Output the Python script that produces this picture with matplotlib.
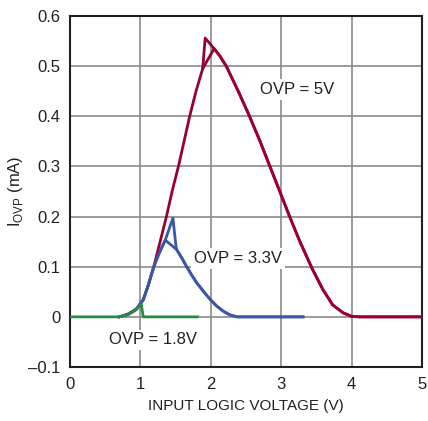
import numpy as np
import matplotlib
matplotlib.use("Agg")
import matplotlib.pyplot as plt

plt.rcParams['font.family'] = ['Liberation Sans Narrow', 'Liberation Sans', 'DejaVu Sans']
plt.rcParams['mathtext.fontset'] = 'custom'
plt.rcParams['mathtext.rm'] = 'Liberation Sans'

# OVP = 5V (two sweeps sharing the falling side)
red_rise_x = [0.70, 0.82, 0.94, 1.04, 1.107, 1.19, 1.28, 1.37, 1.45, 1.54, 1.62, 1.70, 1.79, 1.885]
red_rise_y = [0, 0.005, 0.015, 0.034, 0.061, 0.1, 0.15, 0.2, 0.25, 0.3, 0.35, 0.4, 0.45, 0.495]
red_spike_x = [1.92, 2.047]
red_spike_y = [0.556, 0.535]
red_fall_x = [2.047, 2.13, 2.22, 2.39, 2.55, 2.70, 2.84, 2.98, 3.12, 3.26, 3.44, 3.59, 3.73, 3.88, 4.0, 4.11, 5.0]
red_fall_y = [0.535, 0.52, 0.5, 0.45, 0.4, 0.35, 0.3, 0.25, 0.2, 0.152, 0.096, 0.055, 0.024, 0.008, 0.001, 0, 0]

# OVP = 3.3V
blue_rise_x = [0.70, 0.82, 0.94, 1.04, 1.107, 1.19, 1.27, 1.353]
blue_rise_y = [0, 0.005, 0.015, 0.034, 0.061, 0.1, 0.128, 0.153]
blue_spike_x = [1.462, 1.506]
blue_spike_y = [0.197, 0.14]
blue_fall_x = [1.353, 1.44, 1.516, 1.59, 1.657, 1.73, 1.80, 1.90, 1.99, 2.08, 2.18, 2.27, 2.37, 3.31]
blue_fall_y = [0.153, 0.143, 0.134, 0.117, 0.1, 0.083, 0.068, 0.05, 0.035, 0.022, 0.011, 0.004, 0, 0]

# OVP = 1.8V
green_x = [0, 0.70, 0.82, 0.92, 1.013, 1.04, 1.81]
green_y = [0, 0, 0.004, 0.012, 0.025, 0, 0]

red = '#990030'
blue = '#3a56a8'
green = '#2a8a45'

fig = plt.figure(figsize=(4.28, 4.21), dpi=100)
ax = fig.add_axes([70/428, 54/421, 352/428, 351/421])

# sweep with the spike
ax.plot(red_rise_x + red_spike_x + red_fall_x[1:], red_rise_y + red_spike_y + red_fall_y[1:],
        color=red, lw=2.0, zorder=3)
# sweep without the spike
ax.plot([red_rise_x[-1]] + red_fall_x, [red_rise_y[-1]] + red_fall_y, color=red, lw=2.0, zorder=3)

ax.plot(blue_rise_x + blue_spike_x + blue_fall_x[2:], blue_rise_y + blue_spike_y + blue_fall_y[2:],
        color=blue, lw=2.0, zorder=4)
ax.plot(blue_rise_x + blue_fall_x[1:], blue_rise_y + blue_fall_y[1:], color=blue, lw=2.0, zorder=4)

ax.plot(green_x, green_y, color=green, lw=2.0, zorder=5)

ax.set_xlim(0, 5)
ax.set_ylim(-0.1, 0.6)
ax.set_xticks(range(6))
ax.set_yticks(np.arange(-0.1, 0.61, 0.1))
ax.set_yticklabels(['–0.1', '0', '0.1', '0.2', '0.3', '0.4', '0.5', '0.6'])
ax.tick_params(length=0, labelsize=12, pad=7, colors='#231f20')
ax.grid(True, color='#8a8a8a', lw=1.2)
ax.set_axisbelow(True)
for s in ax.spines.values():
    s.set_color('#231f20')
    s.set_linewidth(1.5)

ax.set_xlabel('INPUT LOGIC VOLTAGE (V)', fontsize=11, color='#231f20', labelpad=5)
ax.set_ylabel(r'I$_{\mathrm{OVP}}$ (mA)', fontsize=12, color='#231f20', labelpad=2)

box = dict(facecolor='white', edgecolor='none', pad=2)
ax.text(3.22, 0.453, 'OVP = 5V', fontsize=12, ha='center', va='center', color='#231f20', bbox=box, zorder=2)
ax.text(2.39, 0.117, 'OVP = 3.3V', fontsize=12, ha='center', va='center', color='#231f20', bbox=box, zorder=2)
ax.text(1.18, -0.046, 'OVP = 1.8V', fontsize=12, ha='center', va='center', color='#231f20', bbox=box, zorder=2)

fig.savefig('out.png', dpi=100)
